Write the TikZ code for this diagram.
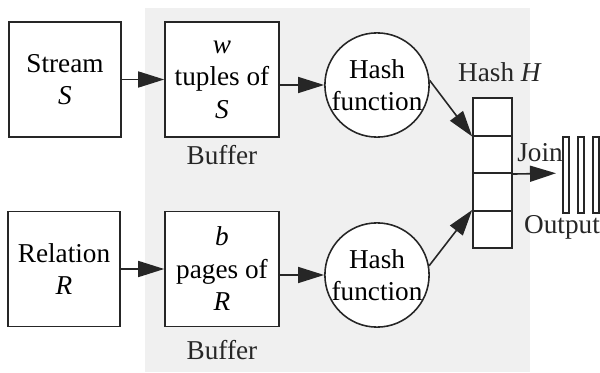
\documentclass[tikz,border=0pt]{standalone}
\usepackage{fontspec}
\setmainfont{Liberation Serif}
\usepackage{tikz}
\usetikzlibrary{arrows.meta, positioning, calc}
\tikzset{
    source_box/.style={
        rectangle, minimum width=2.24cm, minimum height=2.3cm,
        align=center, draw=black!85, fill=white, line width=0.9pt, font=\fontsize{15.5}{18.5}\selectfont
    },
    buffer_box/.style={
        rectangle, minimum width=2.28cm, minimum height=2.3cm,
        align=center, draw=black!85, fill=white, line width=0.9pt, font=\fontsize{15.5}{18.5}\selectfont
    },
    hash_node/.style={
        circle, minimum size=2.08cm, inner sep=0pt,
        align=center, draw=black!85, fill=white, line width=0.9pt, font=\fontsize{15.5}{18.5}\selectfont
    },
    cell_box/.style={
        rectangle, minimum width=0.78cm, minimum height=0.75cm, inner sep=0pt,
        draw=black!85, fill=white, line width=0.9pt
    },
    bar_box/.style={
        rectangle, minimum width=0.13cm, minimum height=1.52cm, inner sep=0pt,
        draw=black!85, fill=white, line width=0.9pt
    },
    label_text/.style={
        font=\fontsize{15.5}{18.5}\selectfont, text=black!85
    },
    arrow/.style={
        line width=0.9pt, -{Triangle[length=0.52cm, width=0.32cm]}, draw=black!85
    }
}

\begin{document}
\begin{tikzpicture}
    \useasboundingbox (0,0) rectangle (12,7.44);
    % Fondo
    \fill[black!6] (2.9,0) rectangle (10.6,7.28);

    % Entradas
    \node[source_box] (stream) at (1.3, 5.85) {Stream\\\textit{S}};
    \node[source_box] (relation) at (1.28, 2.06) {Relation\\\textit{R}};

    % Buffers
    \node[buffer_box] (buf_s) at (4.44, 5.85) {\textit{w}\\tuples of\\\textit{S}};
    \node[buffer_box] (buf_r) at (4.44, 2.06) {\textit{b}\\pages of\\\textit{R}};
    \node[label_text] (buf_s_lbl) at (4.44, 4.34) {Buffer};
    \node[label_text] (buf_r_lbl) at (4.44, 0.44) {Buffer};

    % Funciones hash
    \node[hash_node] (hash_s) at (7.54, 5.74) {Hash\\function};
    \node[hash_node] (hash_r) at (7.54, 1.94) {Hash\\function};

    % Tabla hash H
    \node[cell_box] (h1) at (9.85, 5.1) {};
    \node[cell_box] (h2) at (9.85, 4.35) {};
    \node[cell_box] (h3) at (9.85, 3.6) {};
    \node[cell_box] (h4) at (9.85, 2.85) {};
    \node[label_text] (h_lbl) at (10.0, 6.0) {Hash \textit{H}};

    % Salida
    \node[bar_box] (out1) at (11.32, 3.94) {};
    \node[bar_box] (out2) at (11.62, 3.94) {};
    \node[bar_box] (out3) at (11.92, 3.94) {};
    \node[label_text] (out_lbl) at (11.24, 2.9) {Output};
    \node[label_text] (join_lbl) at (10.8, 4.38) {Join};
    \coordinate (join_end) at (11.12, 3.975);

    % Conexiones
    \draw[arrow] (stream) -- (buf_s);
    \draw[arrow] (relation) -- (buf_r);
    \draw[arrow] (buf_s.east |- hash_s) -- (hash_s);
    \draw[arrow] (buf_r.east |- hash_r) -- (hash_r);
    \draw[arrow] (hash_s.5) -- (h1.south west);
    \draw[arrow] (hash_r.10) -- (h4.north west);
    \draw[arrow] (h2.south east) -- (join_end);
\end{tikzpicture}
\end{document}
